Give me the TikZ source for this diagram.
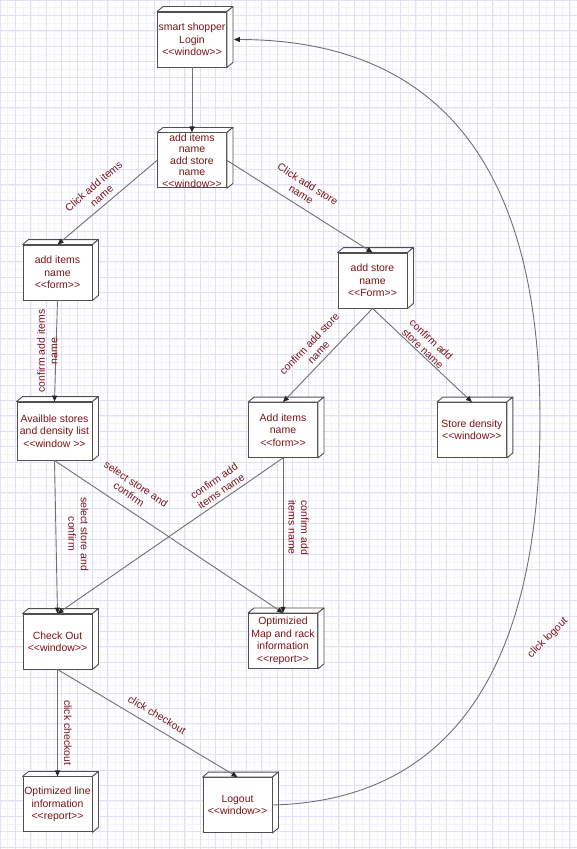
\documentclass[tikz,border=0pt]{standalone}
\usepackage{fontspec}
\newfontfamily\diagfont{Liberation Sans}[Ligatures=TeXOff]
\usetikzlibrary{arrows.meta, positioning}
\definecolor{labelred}{RGB}{125,18,22}
\definecolor{gridmajor}{RGB}{224,224,246}
\definecolor{gridminor}{RGB}{243,243,252}
\definecolor{edgegray}{RGB}{112,112,112}
\definecolor{boxline}{RGB}{80,80,80}
\tikzset{
  screen/.style={
    rectangle, draw=boxline, fill=white, line width=0.9bp,
    minimum width=69bp, minimum height=55bp, inner xsep=0pt, inner ysep=3bp,
    align=center, text=labelred,
    font=\diagfont\fontsize{10.5}{12.5}\selectfont
  },
  boxside/.style={draw=boxline, fill=white, line width=0.9bp, line join=round},
  arr/.style={-{Triangle[length=6bp, width=5bp, color=black!85]},
              draw=edgegray, line width=0.9bp},
  lbl/.style={text=labelred, align=center, inner sep=2bp,
              font=\diagfont\fontsize{10.5}{12.5}\selectfont},
}

\begin{document}
\begin{tikzpicture}[x=1bp, y=-1bp]

  % ── paper and grid ─────────────────────────────────────────────────────────
  \useasboundingbox (0,0) rectangle (577,849);
  \fill[white] (0,0) rectangle (577,849);
  \draw[gridminor, line width=0.5bp, step=7.7bp]  (0,0) grid (577,849);
  \draw[gridmajor, line width=0.8bp, step=15.4bp] (0,0) grid (577,849);

  % ── screens ────────────────────────────────────────────────────────────────
  \node[screen] (login) at (192,39.5) {smart shopper\\Login\\<<window>>};
  \node[screen, below=65bp of login, inner ysep=0pt,
        font=\diagfont\fontsize{10.5}{11.6}\selectfont] (menu)
        {add items\\name\\add store\\name\\<<window>>};

  \node[screen] (itemform)  at (57.5,272.5) {add items\\name\\<<form>>};
  \node[screen] (storeform) at (372.5,280.5) {add store\\name\\<<Form>>};

  \node[screen, minimum width=75bp, minimum height=58bp] (storelist) at (54.5,431)
        {Availble stores\\and density list\\<<window >>};
  \node[screen] (itemform2) at (283,430) {Add items\\name\\<<form>>};
  \node[screen, right=119bp of itemform2] (density) {Store density\\<<window>>};

  \node[screen] (checkout) at (57.5,641.5) {Check Out\\<<window>>};
  \node[screen, below=155bp of itemform2] (mapinfo)
        {Optimizied\\Map and rack\\information\\<<report>>};

  \node[screen, below=107bp of checkout] (lineinfo)
        {Optimized line\\information\\<<report>>};
  \node[screen] (logout) at (237.5,805) {Logout\\<<window>>};

  % ── box depth (top and side faces) ────────────────────────────────────────
  \foreach \n in {login,menu,itemform,storeform,storelist,itemform2,
                  density,checkout,mapinfo,lineinfo,logout}{
    \draw[boxside] (\n.north west) -- ++(6,-5) -- ([shift={(6,-5)}]\n.north east)
                   -- (\n.north east) -- cycle;
    \draw[boxside] (\n.north east) -- ([shift={(6,-5)}]\n.north east)
                   -- ([shift={(6,-5)}]\n.south east) -- (\n.south east) -- cycle;
  }

  % ── transitions ───────────────────────────────────────────────────────────
  \draw[arr] (login.south) -- (menu.north);
  \draw[arr] (menu.west) -- node[lbl, sloped, above, pos=0.5, inner sep=4.5bp] (lblitems)
        {Click add items\\name} (itemform.north);
  \draw[arr] (menu.east) -- node[lbl, sloped, above, pos=0.47, inner sep=6.5bp] (lblstore)
        {Click add store\\name} (storeform.north);

  \draw[arr] (itemform.south) -- node[lbl, rotate=90, above, pos=0.5, inner sep=-2bp] (lblconfitems)
        {confirm add items\\name} (storelist.north);
  \draw[arr] (storeform.south) -- node[lbl, sloped, above, pos=0.534, inner sep=4.5bp] (lblconfstore)
        {confirm add store\\name} (itemform2.north);
  \draw[arr] (storeform.south) -- node[lbl, sloped, above, pos=0.47, inner sep=1bp] (lbldensity)
        {confirm add\\store name} (density.north);

  \draw[arr] (storelist.south) -- node[lbl, rotate=-90, above, pos=0.48, inner sep=12bp] (lblselect)
        {select store and\\confirm} (checkout.north);
  \draw[arr] (storelist.south) -- node[lbl, sloped, above, pos=0.294, inner sep=9bp] (lblselectmap)
        {select store and\\confirm} (mapinfo.north);
  \draw[arr] (itemform2.south) -- node[lbl, sloped, above, pos=0.255, inner sep=3.5bp] (lblconfcheck)
        {confirm add\\items name} (checkout.north);
  \draw[arr] (itemform2.south) -- node[lbl, rotate=-90, above, pos=0.45, inner sep=5bp] (lblconfmap)
        {confirm add\\items name} (mapinfo.north);

  \draw[arr] (checkout.south) -- node[lbl, rotate=-90, above, pos=0.59, inner sep=6bp] (lblline)
        {click checkout} (lineinfo.north);
  \draw[arr] (checkout.south) -- node[lbl, sloped, above, pos=0.518, inner sep=8bp] (lbllogout)
        {click checkout} (logout.north);

  % ── logout back to login ──────────────────────────────────────────────────
  \draw[arr] (logout.east) .. controls (470,800) and (540,640) .. (540,420)
        node[lbl, pos=0.6, xshift=45bp, yshift=11bp, rotate=45] (lblback) {click logout}
        .. controls (540,180) and (450,40) .. ([xshift=7bp]login.east);

\end{tikzpicture}
\end{document}
